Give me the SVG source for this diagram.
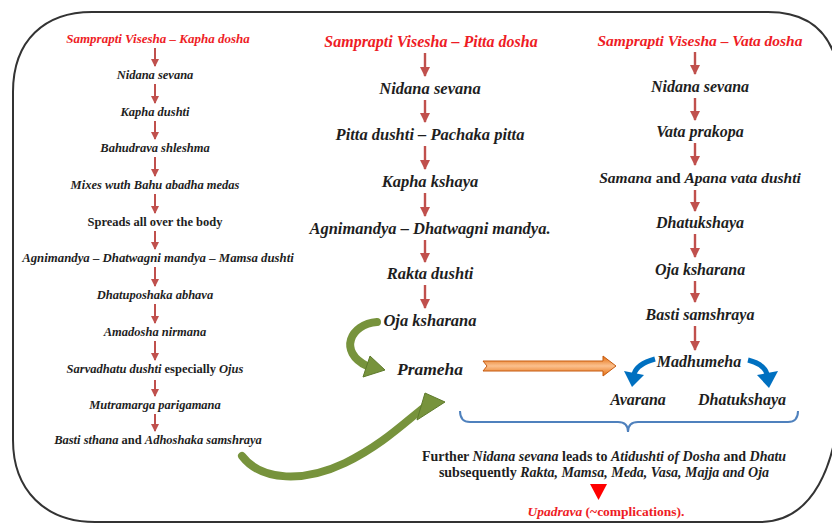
<svg xmlns="http://www.w3.org/2000/svg" width="832" height="525" viewBox="0 0 832 525">
<style>
text{font-weight:bold;text-anchor:middle;fill:#1e1e1e}
.i{font-style:italic}
.red{fill:#ee1c25}
.ra{stroke:#c0504d;stroke-width:2;fill:none;marker-end:url(#rh)}
.ra2{stroke:#c0504d;stroke-width:2.4;fill:none;marker-end:url(#rh2)}
.g{stroke:#77933c;fill:none;stroke-linecap:round}
.gh{fill:#77933c;stroke:#5e7a2c;stroke-width:1}
.b{stroke:#0070c0;fill:none;stroke-width:5}
.bh{fill:#0070c0}
</style>
<defs>
<marker id="rh" markerUnits="userSpaceOnUse" markerWidth="8" markerHeight="8" refX="7" refY="4" orient="auto"><path d="M0,0 L8,4 L0,8 z" fill="#c0504d"/></marker>
<marker id="rh2" markerUnits="userSpaceOnUse" markerWidth="10" markerHeight="10" refX="9" refY="5" orient="auto"><path d="M0,0 L10,5 L0,10 z" fill="#c0504d"/></marker>
<linearGradient id="og" x1="0" y1="0" x2="0" y2="1"><stop offset="0" stop-color="#e46c0a"/><stop offset="0.5" stop-color="#fbc08e"/><stop offset="1" stop-color="#e46c0a"/></linearGradient>
</defs>
<path d="M92,12 H768 C812,12 835,35 840,80 V380 C840,470 810,522 760,522 H95 C45,522 13,490 13,440 V92 C13,40 45,12 92,12 Z" fill="none" stroke="#333" stroke-width="2"/>

<g id="kapha-column">
<text class="i red" style="font-family:'Liberation Serif',serif;font-size:13px" x="158" y="43">Samprapti Visesha – Kapha dosha</text>
<text class="i" style="font-family:'Liberation Serif',serif;font-size:12.5px" x="155" y="79">Nidana sevana</text>
<text class="i" style="font-family:'Liberation Serif',serif;font-size:12.5px" x="155" y="116">Kapha dushti</text>
<text class="i" style="font-family:'Liberation Serif',serif;font-size:12.5px" x="155" y="152">Bahudrava shleshma</text>
<text class="i" style="font-family:'Liberation Serif',serif;font-size:12.5px" x="155" y="189">Mixes wuth Bahu abadha medas</text>
<text style="font-family:'Liberation Serif',serif;font-size:12.5px" x="155" y="226">Spreads all over the body</text>
<text class="i" style="font-family:'Liberation Serif',serif;font-size:12.8px" x="158" y="262">Agnimandya – Dhatwagni mandya – Mamsa dushti</text>
<text class="i" style="font-family:'Liberation Serif',serif;font-size:12.5px" x="155" y="299">Dhatuposhaka abhava</text>
<text class="i" style="font-family:'Liberation Serif',serif;font-size:12.5px" x="155" y="336">Amadosha nirmana</text>
<text style="font-family:'Liberation Serif',serif;font-size:12.5px" x="155" y="373"><tspan class="i">Sarvadhatu dushti</tspan> especially <tspan class="i">Ojus</tspan></text>
<text class="i" style="font-family:'Liberation Serif',serif;font-size:12.5px" x="155" y="409">Mutramarga parigamana</text>
<text style="font-family:'Liberation Serif',serif;font-size:12.5px" x="158" y="444"><tspan class="i">Basti sthana</tspan> and <tspan class="i">Adhoshaka samshraya</tspan></text>
</g>

<g id="pitta-column">
<text class="i red" style="font-family:'Liberation Serif',serif;font-size:16px" x="431" y="47">Samprapti Visesha – Pitta dosha</text>
<text class="i" style="font-family:'Liberation Serif',serif;font-size:16.5px" x="430" y="94">Nidana sevana</text>
<text class="i" style="font-family:'Liberation Serif',serif;font-size:16.5px" x="430" y="140">Pitta dushti – Pachaka pitta</text>
<text class="i" style="font-family:'Liberation Serif',serif;font-size:16.5px" x="430" y="187">Kapha kshaya</text>
<text class="i" style="font-family:'Liberation Serif',serif;font-size:16.5px" x="430" y="234">Agnimandya – Dhatwagni mandya.</text>
<text class="i" style="font-family:'Liberation Serif',serif;font-size:16.5px" x="430" y="279">Rakta dushti</text>
<text class="i" style="font-family:'Liberation Serif',serif;font-size:16.5px" x="430" y="326">Oja ksharana</text>
</g>

<g id="prameha"><text class="i" style="font-family:'Liberation Serif',serif;font-size:17.5px" x="430" y="375">Prameha</text></g>

<g id="vata-column">
<text class="i red" style="font-family:'Liberation Serif',serif;font-size:15.5px" x="700" y="46">Samprapti Visesha – Vata dosha</text>
<text class="i" style="font-family:'Liberation Serif',serif;font-size:16px" x="700" y="92">Nidana sevana</text>
<text class="i" style="font-family:'Liberation Serif',serif;font-size:16px" x="700" y="137">Vata prakopa</text>
<text style="font-family:'Liberation Serif',serif;font-size:15.5px" x="700" y="183"><tspan class="i">Samana</tspan> and <tspan class="i">Apana vata dushti</tspan></text>
<text class="i" style="font-family:'Liberation Serif',serif;font-size:16px" x="700" y="228">Dhatukshaya</text>
<text class="i" style="font-family:'Liberation Serif',serif;font-size:16px" x="700" y="275">Oja ksharana</text>
<text class="i" style="font-family:'Liberation Serif',serif;font-size:16px" x="700" y="320">Basti samshraya</text>
</g>
<g id="madhumeha"><text class="i" style="font-family:'Liberation Serif',serif;font-size:16px" x="699" y="367">Madhumeha</text></g>
<g id="avarana"><text class="i" style="font-family:'Liberation Serif',serif;font-size:16px" x="638" y="405">Avarana</text></g>
<g id="dhatukshaya2"><text class="i" style="font-family:'Liberation Serif',serif;font-size:16px" x="742" y="405">Dhatukshaya</text></g>

<g id="further">
<text style="font-family:'Liberation Serif',serif;font-size:14px" x="604" y="461">Further <tspan class="i">Nidana sevana</tspan> leads to <tspan class="i">Atidushti of Dosha</tspan> and <tspan class="i">Dhatu</tspan></text>
<text style="font-family:'Liberation Serif',serif;font-size:14px" x="604" y="477">subsequently <tspan class="i">Rakta, Mamsa, Meda, Vasa, Majja and Oja</tspan></text>
</g>
<g id="upadrava">
<text class="red" style="font-family:'Liberation Serif',serif;font-size:13.5px" x="606" y="516"><tspan class="i">Upadrava</tspan> (~complications).</text>
</g>

<g id="connectors">
<line class="ra" x1="155" y1="48" x2="155" y2="66"/>
<line class="ra" x1="155" y1="84" x2="155" y2="103"/>
<line class="ra" x1="155" y1="121" x2="155" y2="139"/>
<line class="ra" x1="155" y1="157" x2="155" y2="176"/>
<line class="ra" x1="155" y1="194" x2="155" y2="213"/>
<line class="ra" x1="155" y1="231" x2="155" y2="249"/>
<line class="ra" x1="155" y1="267" x2="155" y2="286"/>
<line class="ra" x1="155" y1="304" x2="155" y2="323"/>
<line class="ra" x1="155" y1="341" x2="155" y2="360"/>
<line class="ra" x1="155" y1="380" x2="155" y2="396"/>
<line class="ra" x1="155" y1="414" x2="155" y2="431"/>

<line class="ra2" x1="425" y1="53" x2="425" y2="76"/>
<line class="ra2" x1="425" y1="100" x2="425" y2="122"/>
<line class="ra2" x1="425" y1="146" x2="425" y2="169"/>
<line class="ra2" x1="425" y1="193" x2="425" y2="216"/>
<line class="ra2" x1="425" y1="240" x2="425" y2="262"/>
<line class="ra2" x1="425" y1="285" x2="425" y2="308"/>

<line class="ra2" x1="695" y1="52" x2="695" y2="74"/>
<line class="ra2" x1="695" y1="98" x2="695" y2="120"/>
<line class="ra2" x1="695" y1="143" x2="695" y2="165"/>
<line class="ra2" x1="695" y1="190" x2="695" y2="211"/>
<line class="ra2" x1="695" y1="234" x2="695" y2="257"/>
<line class="ra2" x1="695" y1="281" x2="695" y2="302"/>
<line class="ra2" x1="695" y1="326" x2="695" y2="350"/>

<path class="g" stroke-width="8" d="M377,322 C350,324 338,352 367,366"/>
<polygon class="gh" points="370,356 385,370 363,377"/>
<path class="g" stroke-width="8" d="M242,456 C262,482 305,482 345,463 C380,446 402,425 422,409"/>
<polygon class="gh" points="445,402 425,393 417,420"/>

<polygon points="483,361 603,361 603,356 616,366 603,376 603,371 483,371 487,366" fill="url(#og)" stroke="#c55a11" stroke-width="1"/>

<path class="b" d="M655,359 Q637,364 634,374"/>
<polygon class="bh" points="624,371 644,375 632,387"/>
<path class="b" d="M748,360 Q764,364 767,374"/>
<polygon class="bh" points="757,375 778,371 769,388"/>

<path d="M460,411 Q460,422 470,422 L618,422 Q628,422 628,432 Q628,422 638,422 L788,422 Q798,422 798,411" fill="none" stroke="#4f81bd" stroke-width="2"/>

<polygon points="590,484 607,484 598.5,500" fill="#ff0000"/>
</g>
</svg>
